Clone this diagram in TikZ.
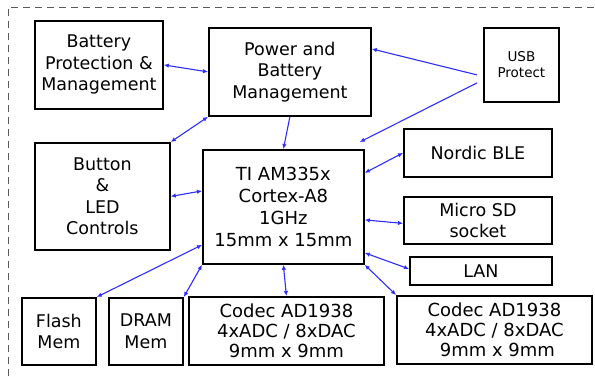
\documentclass[tikz,border=0pt]{standalone}
\usepackage{fontspec}
\setmainfont{DejaVu Sans}
\usetikzlibrary{arrows.meta}
\definecolor{arrblue}{RGB}{45,45,255}
\definecolor{framegray}{RGB}{90,90,90}
\tikzset{
  blk/.style={draw=black, line width=1.8pt, fill=white, inner sep=0pt, align=center,
    font=\fontsize{17.5}{21.5}\selectfont},
  conn/.style={draw=arrblue, line width=1.1pt, {Latex[length=5pt,width=4.5pt]}-{Latex[length=5pt,width=4.5pt]}},
  conn1/.style={draw=arrblue, line width=1.1pt, -{Latex[length=5pt,width=4.5pt]}},
}
\newcommand{\bx}[7]{\node[blk, anchor=north west, minimum width=#4pt-#2pt, minimum height=#5pt-#3pt, #6] (#1) at (#2,#3) {#7};}
\begin{document}
\begin{tikzpicture}[x=1pt,y=-1pt]
\useasboundingbox (0,0) rectangle (595,376);
\draw[framegray, line width=1pt, dash pattern=on 7pt off 5pt] (8,376) -- (8,7) -- (595,7);
\bx{bp}{34}{20}{162}{108}{}{Battery\\Protection \&\\Management}
\bx{pw}{208}{27}{370}{115}{}{Power and\\Battery\\Management}
\bx{usb}{483}{27}{558}{101}{font=\fontsize{13.5}{16}\selectfont}{USB\\Protect}
\bx{ble}{403}{128}{551}{176}{}{Nordic BLE}
\bx{btn}{34}{142}{169}{249}{}{Button\\\&\\LED\\Controls}
\bx{ti}{202}{149}{363}{263}{font=\fontsize{18}{21.7}\selectfont}{TI AM335x\\Cortex-A8\\1GHz\\15mm x 15mm}
\bx{sd}{403}{196}{551}{243}{}{Micro SD\\socket}
\bx{lan}{409}{256}{551}{284}{}{LAN}
\bx{cr}{396}{295}{591}{363}{font=\fontsize{18}{20}\selectfont}{Codec AD1938\\4xADC / 8xDAC\\\hspace*{6pt}9mm x 9mm}
\bx{fl}{21}{297}{95}{364}{}{Flash\\Mem}
\bx{dr}{108}{297}{182}{364}{}{DRAM\\Mem}
\bx{cm}{188}{296}{383}{364}{font=\fontsize{18}{20}\selectfont}{Codec AD1938\\4xADC / 8xDAC\\9mm x 9mm}
% connectors
\draw[conn] (bp.east) -- (pw.west);
\draw[conn] (pw.south west) -- (btn.north east);
\draw[conn1] (pw.south) -- (ti.north);
\draw[conn1] ([xshift=-6pt,yshift=-10pt]usb.west) -- ([yshift=23pt]pw.east);
\draw[conn1] ([xshift=-6pt,yshift=-18pt]usb.west) -- ([xshift=-5pt,yshift=7pt]ti.north east);
\draw[conn] ([yshift=34pt]ti.east) -- (ble.west);
\draw[conn] (btn.east) -- ([yshift=16pt]ti.west);
\draw[conn] ([yshift=-13pt]ti.east) -- ([yshift=-3pt]sd.west);
\draw[conn] ([yshift=-46pt]ti.east) -- ([yshift=2pt]lan.west);
\draw[conn] (ti.south east) -- (cr.north west);
\draw[conn] (ti.south) -- (cm.north);
\draw[conn] (ti.south west) -- (dr.north east);
\draw[conn] ([yshift=-38pt]ti.west) -- (fl.north east);
\end{tikzpicture}
\end{document}
